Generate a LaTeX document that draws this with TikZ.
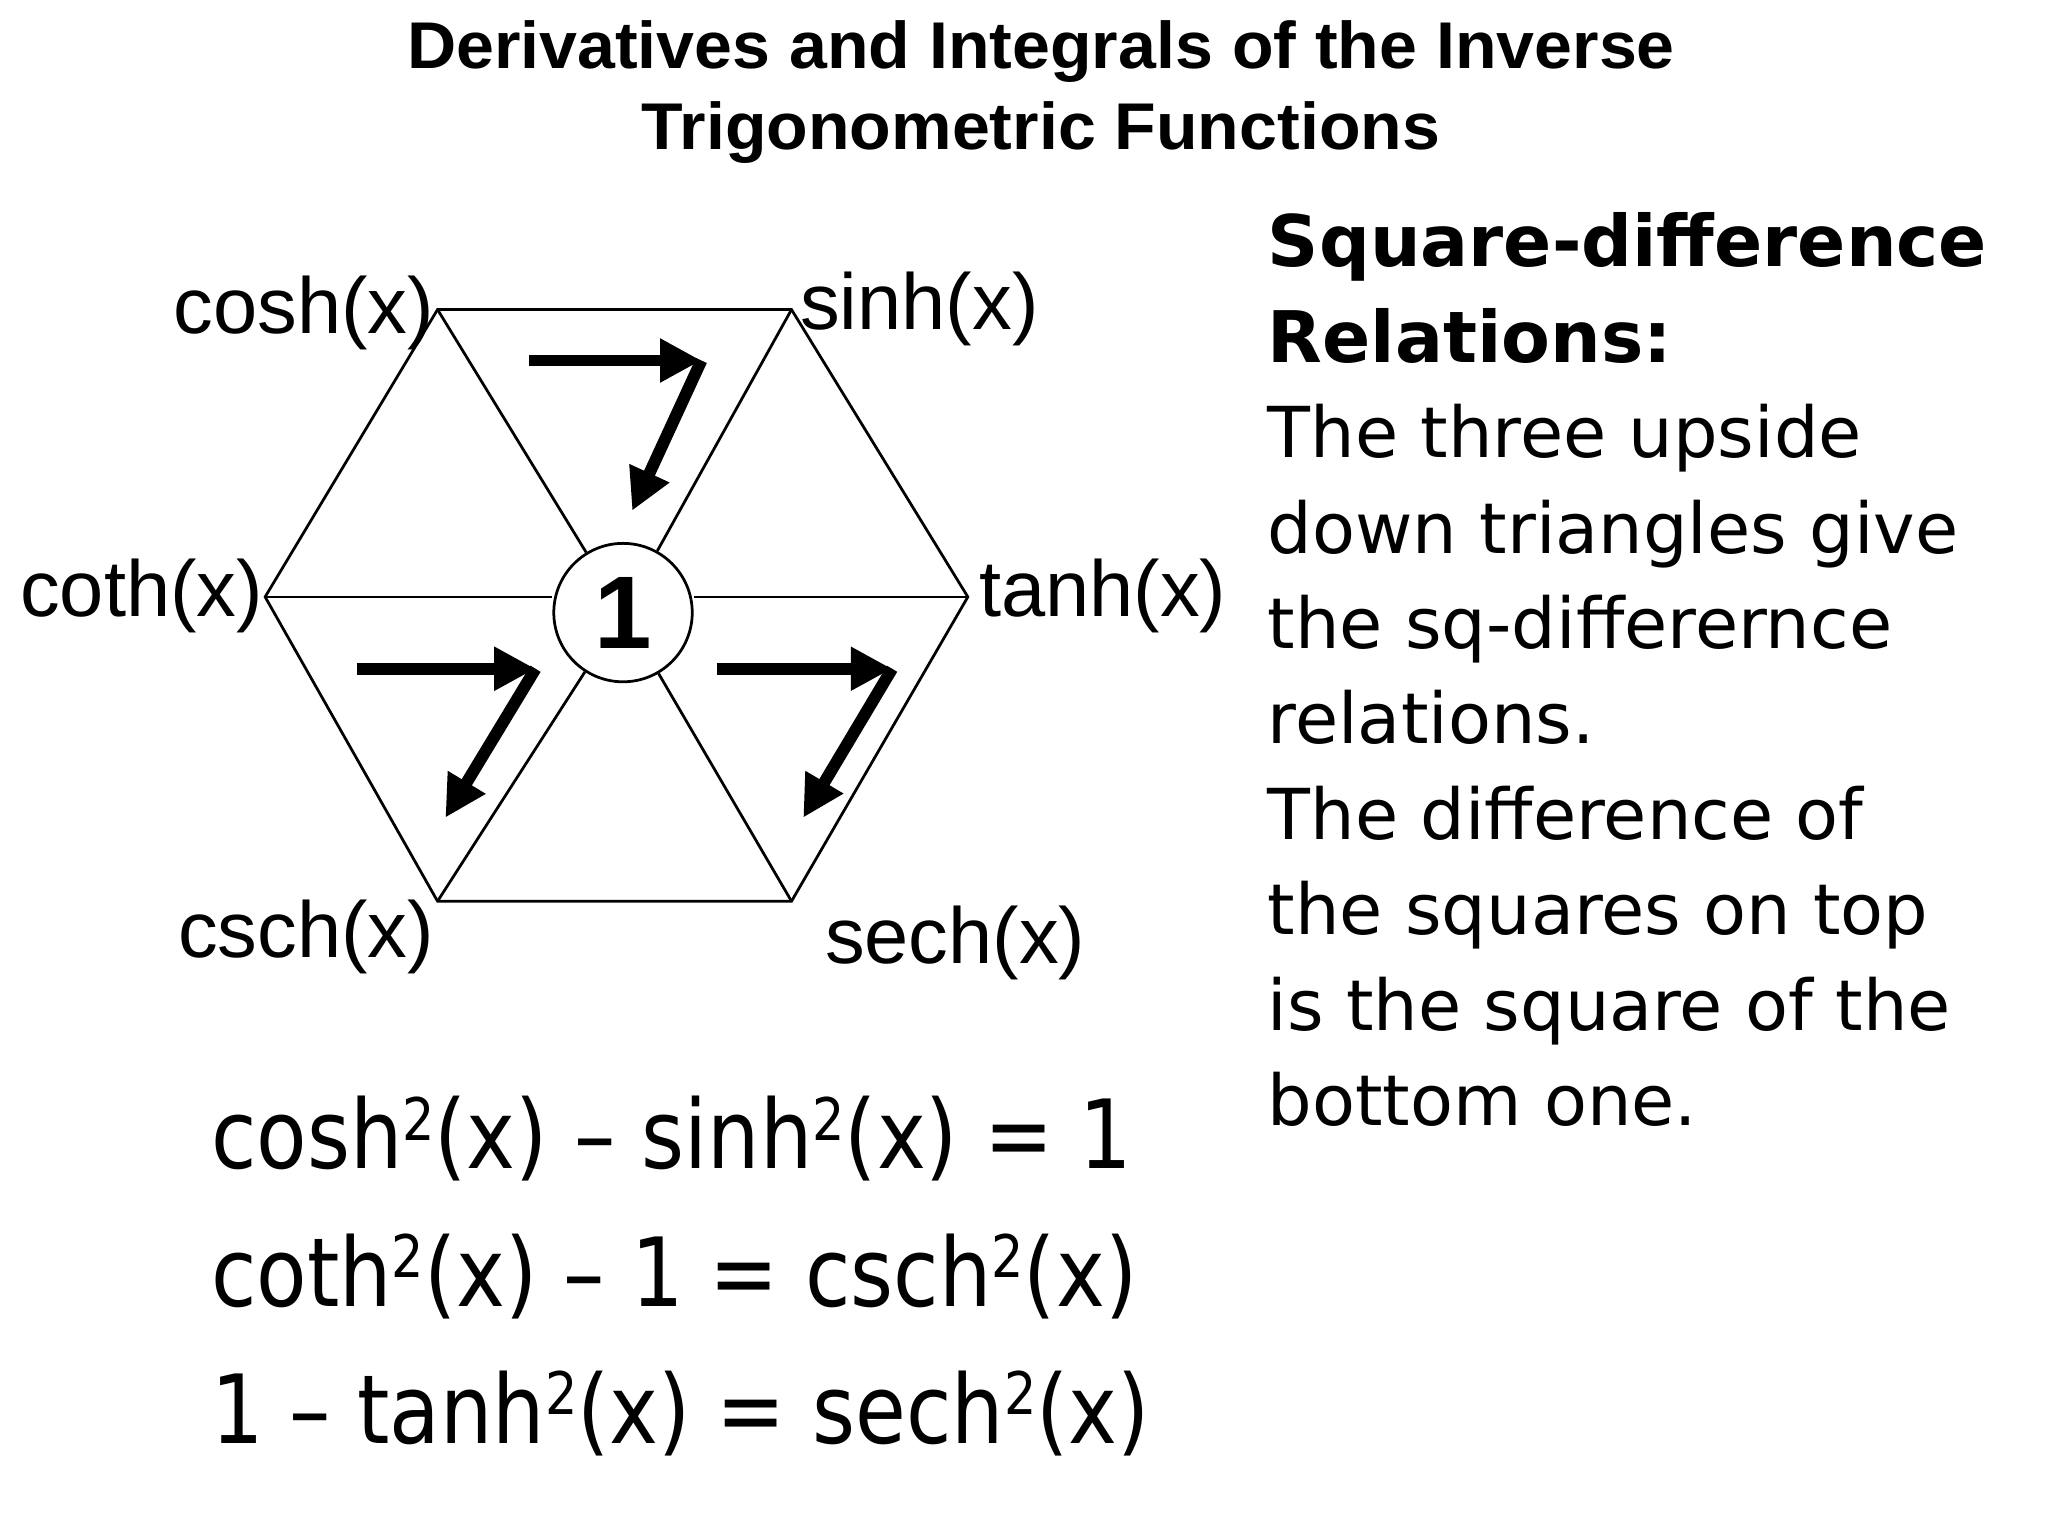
\documentclass[tikz,border=0pt]{standalone}
\usepackage{fontspec}
\setmainfont{Liberation Sans}
\newfontfamily\verdana{DejaVu Sans}
\usetikzlibrary{arrows.meta}

\newcommand\sqtwo{\raisebox{6.2pt}{\fontsize{12.8}{13}\selectfont 2}}

\tikzset{
  hexline/.style={line width=0.6pt},
  funlabel/.style={inner sep=0pt,font=\fontsize{17.3}{19}\selectfont},
  turnarrow/.style={line width=2.6pt,-{Triangle[length=9pt,width=9pt]}},
  eqline/.style={inner sep=0pt,anchor=base west,xscale=0.865,
    font=\verdana\fontsize{20.8}{24}\selectfont}
}

\begin{document}
\begin{tikzpicture}[x=0.1mm,y=-0.1mm]
\useasboundingbox (0,0) rectangle (1568,1176);

\node[font=\bfseries\fontsize{14.4}{17.7}\selectfont,align=center,anchor=north,inner sep=0pt,xscale=1.03] (title) at (797,15)
  {Derivatives and Integrals of the Inverse\\Trigonometric Functions};

% hexagon corners
\coordinate (ctl) at (335,237);
\coordinate (ctr) at (606,237);
\coordinate (cl) at (203,457);
\coordinate (cr) at (741,457);
\coordinate (cbl) at (335,690);
\coordinate (cbr) at (606,690);

\draw[hexline] (ctl) -- (ctr) -- (cr) -- (cbr) -- (cbl) -- (cl) -- cycle;
\node[circle,draw,hexline,minimum size=1.06cm,inner sep=0pt,font=\bfseries\fontsize{22.5}{24}\selectfont] (one) at (477,469) {1};
\foreach \c in {ctl,ctr,cbl,cbr}
  \draw[hexline] (\c) -- (one);
\draw[hexline] (cl) -- (cl -| one.west);
\draw[hexline] (cr) -- (cr -| one.east);

\node[funlabel,anchor=base east] (cosh) at (333,255) {cosh(x)};
\node[funlabel,anchor=base west] (sinh) at (612,252) {sinh(x)};
\node[funlabel,anchor=base east] (coth) at (202,472) {coth(x)};
\node[funlabel,anchor=base west] (tanh) at (749,472) {tanh(x)};
\node[funlabel,anchor=base east] (csch) at (333,733) {csch(x)};
\node[funlabel,anchor=base west] (sech) at (631,738) {sech(x)};

% arrows in the three upside down triangles
\coordinate (a1) at (405,276);
\coordinate (b1) at (537,276);
\coordinate (c1) at (484,391);
\coordinate (a2) at (273,512);
\coordinate (b2) at (410,512);
\coordinate (c2) at (341,626);
\coordinate (a3) at (549,512);
\coordinate (b3) at (683,512);
\coordinate (c3) at (615,626);
\foreach \i in {1,2,3}{
  \draw[turnarrow] (a\i) -- (b\i);
  \draw[turnarrow] (b\i) -- (c\i);
}

\node[anchor=north west,inner sep=0pt,align=left,font=\verdana\fontsize{15.3}{20.8}\selectfont] (text) at (970,162)
  {{\fontsize{15.5}{20.8}\selectfont\bfseries Square-difference}\\{\fontsize{15.5}{20.8}\selectfont\bfseries Relations:}\\The three upside\\down triangles give\\the sq-differernce\\relations.\\The difference of\\the squares on top\\is the square of the\\bottom one.};

\node[eqline] (eq1) at (161,895) {cosh\sqtwo(x) – sinh\sqtwo(x) = 1};
\node[eqline] (eq2) at (161,1000) {coth\sqtwo(x) – 1 = csch\sqtwo(x)};
\node[eqline] (eq3) at (161,1105) {1 – tanh\sqtwo(x) = sech\sqtwo(x)};
\end{tikzpicture}
\end{document}
